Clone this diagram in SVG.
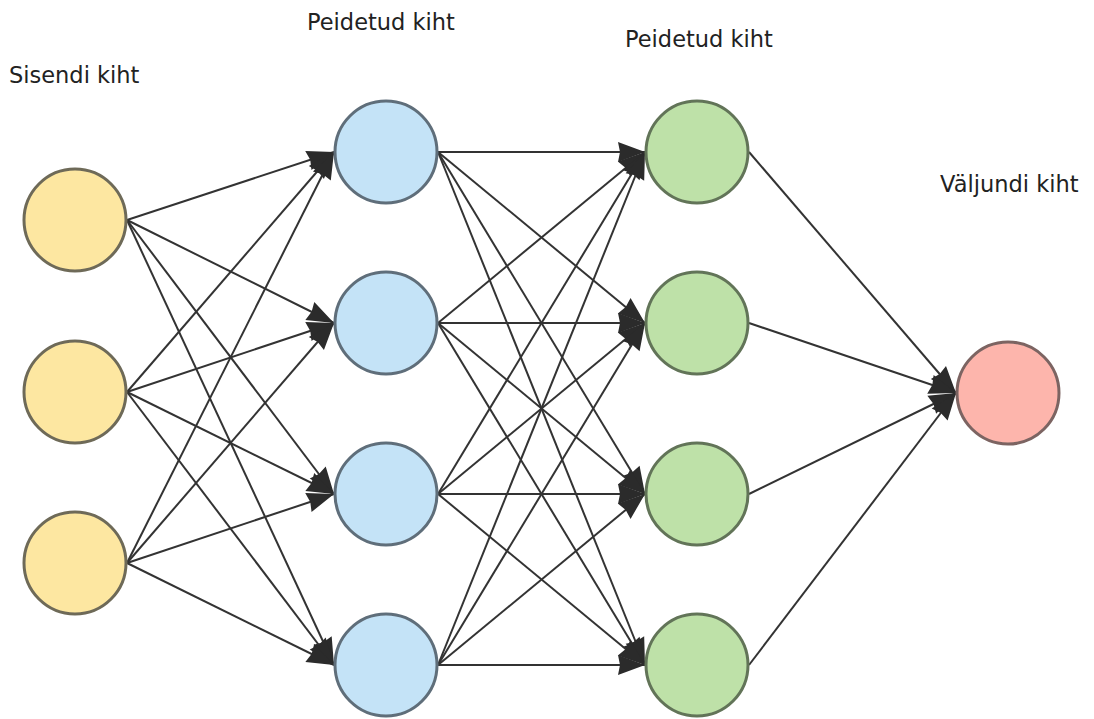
<svg xmlns="http://www.w3.org/2000/svg" width="1094" height="719" viewBox="0 0 1094 719">
<style>
.lbl{font-family:"DejaVu Sans",Verdana,sans-serif;font-size:22.5px;fill:#222}
.e{stroke:#333;stroke-width:2;fill:none;marker-end:url(#ah)}
.in{fill:#FDE7A1;stroke:#6E6A58;stroke-width:3}
.h1{fill:#C4E3F7;stroke:#5F6E7A;stroke-width:3}
.h2{fill:#BEE1A8;stroke:#627458;stroke-width:3}
.out{fill:#FDB5AC;stroke:#7C6462;stroke-width:3}
</style>
<defs>
<marker id="ah" markerUnits="userSpaceOnUse" markerWidth="30" markerHeight="24" viewBox="-28 -12 30 24" refX="0" refY="0" orient="auto">
<path d="M0,0 L-27,-10 L-25,0 L-27,10 Z" fill="#2b2b2b"/>
</marker>
</defs>
<rect width="1094" height="719" fill="#fff"/>
<g id="labels">
<text class="lbl" x="9" y="83">Sisendi kiht</text>
<text class="lbl" x="307" y="30">Peidetud kiht</text>
<text class="lbl" x="625" y="47">Peidetud kiht</text>
<text class="lbl" x="940" y="192">Väljundi kiht</text>
</g>
<g id="connectors">
<path class="e" d="M127,220 L334,152"/><path class="e" d="M127,220 L334,323"/><path class="e" d="M127,220 L334,494"/><path class="e" d="M127,220 L334,665"/>
<path class="e" d="M127,392 L334,152"/><path class="e" d="M127,392 L334,323"/><path class="e" d="M127,392 L334,494"/><path class="e" d="M127,392 L334,665"/>
<path class="e" d="M127,563 L334,152"/><path class="e" d="M127,563 L334,323"/><path class="e" d="M127,563 L334,494"/><path class="e" d="M127,563 L334,665"/>
<path class="e" d="M438,152 L645,152"/><path class="e" d="M438,152 L645,323"/><path class="e" d="M438,152 L645,494"/><path class="e" d="M438,152 L645,665"/>
<path class="e" d="M438,323 L645,152"/><path class="e" d="M438,323 L645,323"/><path class="e" d="M438,323 L645,494"/><path class="e" d="M438,323 L645,665"/>
<path class="e" d="M438,494 L645,152"/><path class="e" d="M438,494 L645,323"/><path class="e" d="M438,494 L645,494"/><path class="e" d="M438,494 L645,665"/>
<path class="e" d="M438,665 L645,152"/><path class="e" d="M438,665 L645,323"/><path class="e" d="M438,665 L645,494"/><path class="e" d="M438,665 L645,665"/>
<path class="e" d="M749,152 L956,393"/><path class="e" d="M749,323 L956,393"/><path class="e" d="M749,494 L956,393"/><path class="e" d="M749,665 L956,393"/>
</g>
<g id="in1"><circle class="in" cx="75" cy="220" r="51"/></g>
<g id="in2"><circle class="in" cx="75" cy="392" r="51"/></g>
<g id="in3"><circle class="in" cx="75" cy="563" r="51"/></g>
<g id="h1a"><circle class="h1" cx="386" cy="152" r="51"/></g>
<g id="h1b"><circle class="h1" cx="386" cy="323" r="51"/></g>
<g id="h1c"><circle class="h1" cx="386" cy="494" r="51"/></g>
<g id="h1d"><circle class="h1" cx="386" cy="665" r="51"/></g>
<g id="h2a"><circle class="h2" cx="697" cy="152" r="51"/></g>
<g id="h2b"><circle class="h2" cx="697" cy="323" r="51"/></g>
<g id="h2c"><circle class="h2" cx="697" cy="494" r="51"/></g>
<g id="h2d"><circle class="h2" cx="697" cy="665" r="51"/></g>
<g id="out"><circle class="out" cx="1008" cy="393" r="51"/></g>
</svg>
